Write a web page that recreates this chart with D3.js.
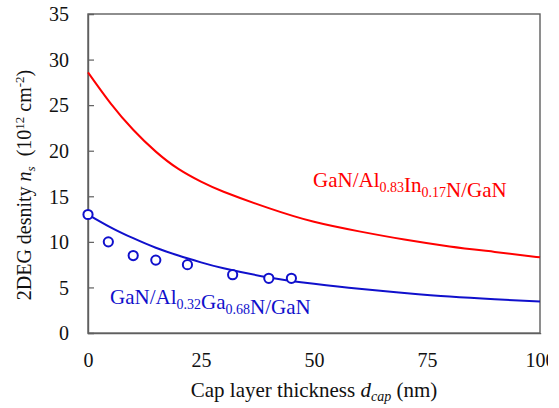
<!DOCTYPE html>
<html>
<head>
<meta charset="utf-8">
<script src="https://cdn.jsdelivr.net/npm/d3@7"></script>
<style>
  html, body { margin: 0; padding: 0; background: #fff; }
  svg { display: block; font-family: "Liberation Serif", "Times New Roman", serif; }
</style>
</head>
<body>
<svg id="chart" width="559" height="408"></svg>
<script>
// Cap layer thickness (nm) at which curves are sampled
const capThickness = [0, 5, 10, 15, 20, 25, 30, 40, 50, 60, 70, 80, 90, 100];
// Calculated sheet density, GaN/Al0.83In0.17N/GaN (10^12 cm^-2)
const densityAlIn = [28.6, 25.2, 22.3, 19.9, 18.0, 16.6, 15.5, 13.7, 12.2, 11.15, 10.25, 9.5, 8.9, 8.3];
// Calculated sheet density, GaN/Al0.32Ga0.68N/GaN
const densityAlGa = [13.0, 11.6, 10.4, 9.35, 8.5, 7.75, 7.1, 6.1, 5.4, 4.85, 4.4, 4.0, 3.7, 3.45];
// Measured points, GaN/Al0.32Ga0.68N/GaN
const measuredThickness = [0, 4.5, 10, 15, 22, 32, 40, 45];
const measuredDensity = [13.0, 10.0, 8.5, 8.0, 7.5, 6.4, 6.0, 6.0];
// Axis ticks
const xTicks = [0, 25, 50, 75, 100];
const yTicks = [0, 5, 10, 15, 20, 25, 30, 35];

const svg = d3.select("#chart");
const margin = { left: 88, right: 19, top: 14, bottom: 75 };
const W = 559, H = 408;
const x = d3.scaleLinear().domain([0, 100]).range([margin.left, W - margin.right]);
const y = d3.scaleLinear().domain([0, 35]).range([H - margin.bottom, margin.top]);

const axisColor = "#5f5f5f";
const red = "#ff0000";
const blue = "#1010cc";

// Clip region for tick labels at the right edge
svg.append("defs").append("clipPath").attr("id", "pageClip")
  .append("rect").attr("x", 0).attr("y", 0).attr("width", 548).attr("height", H);

// Frame
svg.append("rect")
  .attr("x", x(0)).attr("y", y(35))
  .attr("width", x(100) - x(0)).attr("height", y(0) - y(35))
  .attr("fill", "none").attr("stroke", axisColor).attr("stroke-width", 1.4);

// Axes with inward ticks
const xAxis = d3.axisBottom(x).tickValues(xTicks).tickSize(-6).tickPadding(20).tickFormat(d3.format("d"));
const gx = svg.append("g").attr("transform", `translate(0,${y(0)})`).attr("clip-path", "url(#pageClip)").call(xAxis);
const yAxis = d3.axisLeft(y).tickValues(yTicks).tickSize(-6).tickPadding(19).tickFormat(d3.format("d"));
const gy = svg.append("g").attr("transform", `translate(${x(0)},0)`).call(yAxis);

[gx, gy].forEach(g => {
  g.select(".domain").attr("stroke", axisColor).attr("stroke-width", 1.4);
  g.selectAll(".tick line").attr("stroke", axisColor).attr("stroke-width", 1.2);
  g.selectAll(".tick text").attr("fill", "#111").style("font-size", "20px")
    .style("font-family", '"Liberation Serif", serif');
});
gy.selectAll(".tick text").attr("dy", "0.34em");
gx.selectAll(".tick line").filter(d => d === 0 || d === 100).remove();
gy.selectAll(".tick line").filter(d => d === 0 || d === 35).remove();

// Curves
const line = d3.line().x(d => x(d[0])).y(d => y(d[1])).curve(d3.curveNatural);
svg.append("path")
  .datum(capThickness.map((t, i) => [t, densityAlIn[i]]))
  .attr("d", line).attr("fill", "none").attr("stroke", red).attr("stroke-width", 2);
svg.append("path")
  .datum(capThickness.map((t, i) => [t, densityAlGa[i]]))
  .attr("d", line).attr("fill", "none").attr("stroke", blue).attr("stroke-width", 2);

// Measured points
svg.append("g").selectAll("circle")
  .data(measuredThickness.map((t, i) => [t, measuredDensity[i]]))
  .join("circle")
  .attr("cx", d => x(d[0])).attr("cy", d => y(d[1])).attr("r", 4.6)
  .attr("fill", "#fff").attr("stroke", blue).attr("stroke-width", 2);

// Series labels with subscripts
function formula(parent, px, py, parts, color) {
  const t = parent.append("text").attr("x", px).attr("y", py)
    .attr("fill", color).style("font-size", "21px");
  parts.forEach(p => {
    if (p.sub) {
      t.append("tspan").text(p.sub).style("font-size", "14px").attr("dy", 5);
      t.append("tspan").text("").attr("dy", -5);
    } else {
      t.append("tspan").text(p.t);
    }
  });
  return t;
}
formula(svg, 313, 187, [{ t: "GaN/Al" }, { sub: "0.83" }, { t: "In" }, { sub: "0.17" }, { t: "N/GaN" }], red);
formula(svg, 110, 304, [{ t: "GaN/Al" }, { sub: "0.32" }, { t: "Ga" }, { sub: "0.68" }, { t: "N/GaN" }], blue);

// X axis title
const xt = svg.append("text").attr("x", 314).attr("y", 397).attr("text-anchor", "middle")
  .attr("fill", "#111").style("font-size", "21px");
xt.append("tspan").text("Cap layer thickness ");
xt.append("tspan").text("d").style("font-style", "italic");
xt.append("tspan").text("cap").style("font-style", "italic").style("font-size", "14px").attr("dy", 4);
xt.append("tspan").text(" (nm)").attr("dy", -4);

// Y axis title
const yt = svg.append("text").attr("transform", "translate(31,185) rotate(-90)")
  .attr("text-anchor", "middle").attr("fill", "#111").style("font-size", "20px");
yt.append("tspan").text("2DEG desnity ");
yt.append("tspan").text("n").style("font-style", "italic");
yt.append("tspan").text("s").style("font-style", "italic").style("font-size", "13px").attr("dy", 4);
yt.append("tspan").text("\u00a0 (10").attr("dy", -4);
yt.append("tspan").text("12").style("font-size", "13px").attr("dy", -7);
yt.append("tspan").text(" cm").attr("dy", 7);
yt.append("tspan").text("-2").style("font-size", "13px").attr("dy", -7);
yt.append("tspan").text(")").attr("dy", 7);
</script>
</body>
</html>
